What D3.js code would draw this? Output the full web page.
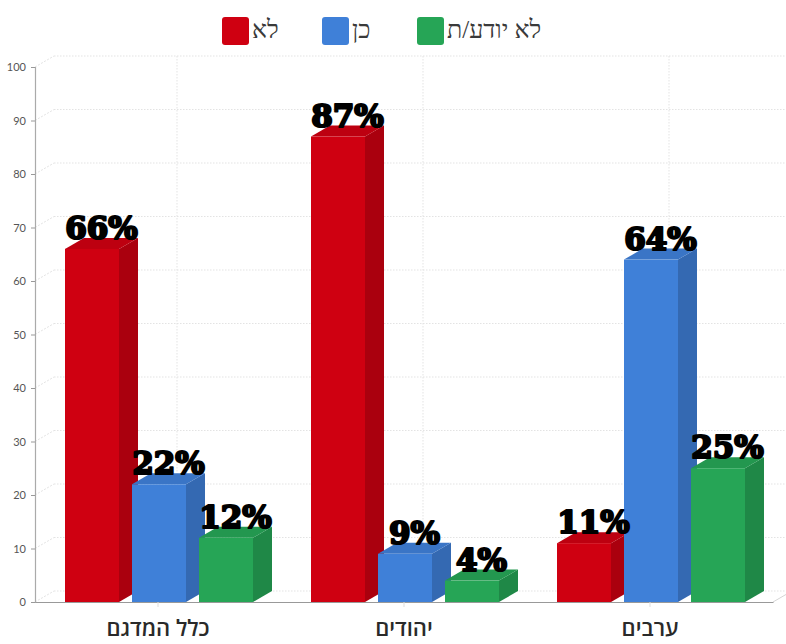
<!DOCTYPE html>
<html lang="he">
<head>
<meta charset="utf-8">
<script src="https://cdn.jsdelivr.net/npm/d3@7"></script>
<style>
  html, body { margin: 0; padding: 0; background: #fff; }
  svg { display: block; }
  .tick-y text { font-family: Lato, sans-serif; font-size: 11px; fill: #555; }
  .cat-label { font-family: "Noto Sans", "Open Sans", sans-serif; font-size: 22px; fill: #2a2a2a; font-weight: 600; }
  .legend-label { font-family: "Liberation Serif", serif; font-size: 25px; fill: #3a3a3a; }
  .value-label { font-family: "DejaVu Serif", serif; font-weight: 700; font-size: 31px; fill: #000; stroke: #000; stroke-width: 2.2px; stroke-linejoin: round; }
</style>
</head>
<body>
<div id="container"></div>
<script>
/* DATA */
const categories = ["כלל המדגם", "יהודים", "ערבים"];
const seriesNames = ["לא", "כן", "לא יודע/ת"];
const noValues = [66, 87, 11];
const yesValues = [22, 9, 64];
const dontKnowValues = [12, 4, 25];
const yTicks = [0, 10, 20, 30, 40, 50, 60, 70, 80, 90, 100];

/* CONSTANTS */
const width = 786,
  height = 644,
  margin = { top: 67, bottom: 42, left: 35, right: 13 };
const depthX = 19, depthY = 11;
const seriesColors = ["#cf0011", "#3f80d8", "#26a556"];

const seriesValues = [noValues, yesValues, dontKnowValues];

const svg = d3.select("#container")
  .append("svg")
  .attr("width", width)
  .attr("height", height);

/* SCALES */
const xScale = d3.scaleBand()
  .domain(categories)
  .range([margin.left, width - margin.right]);

// bars inside one category
const innerScale = d3.scaleBand()
  .domain(seriesNames)
  .range([30, 218])
  .paddingInner(13 / 67);

const yScale = d3.scaleLinear()
  .domain([0, 100])
  .range([height - margin.bottom, margin.top]);

const colorScale = d3.scaleOrdinal().domain(seriesNames).range(seriesColors);

/* BACK WALL GRID */
const grid = svg.append("g")
  .attr("fill", "none")
  .attr("stroke", "#e3e3e3")
  .attr("stroke-width", 1);

grid.selectAll("line.h")
  .data(yTicks)
  .join("line")
  .attr("class", "h")
  .attr("x1", margin.left + depthX)
  .attr("x2", width)
  .attr("y1", d => yScale(d) - depthY)
  .attr("y2", d => yScale(d) - depthY)
  .attr("stroke-dasharray", "1.5 1.5");

grid.selectAll("line.side")
  .data(yTicks)
  .join("line")
  .attr("class", "side")
  .attr("x1", margin.left)
  .attr("x2", margin.left + depthX)
  .attr("y1", d => yScale(d))
  .attr("y2", d => yScale(d) - depthY)
  .attr("stroke-dasharray", "2 1.5");

grid.selectAll("line.v")
  .data(categories)
  .join("line")
  .attr("class", "v")
  .attr("x1", d => xScale(d) + xScale.bandwidth() / 2 + depthX)
  .attr("x2", d => xScale(d) + xScale.bandwidth() / 2 + depthX)
  .attr("y1", yScale(100) - depthY)
  .attr("y2", yScale(0) - depthY)
  .attr("stroke-dasharray", "1.5 1.5");

// floor edge on the right
grid.append("line")
  .attr("x1", width - margin.right)
  .attr("x2", width)
  .attr("y1", yScale(0))
  .attr("y2", yScale(0) - depthY * 13 / depthX)
  .attr("stroke", "#d5d5d5");

/* AXES */
const yAxis = d3.axisLeft(yScale)
  .tickValues(yTicks)
  .tickSize(4)
  .tickPadding(5);

svg.append("g")
  .attr("class", "tick-y")
  .attr("transform", `translate(${margin.left},0)`)
  .call(yAxis)
  .call(g => g.selectAll(".domain").attr("stroke", "#aaa").attr("stroke-width", 1.2))
  .call(g => g.selectAll(".tick line").attr("stroke", "#999"));

const xAxis = d3.axisBottom(xScale)
  .tickSize(5)
  .tickPadding(13)
  .tickSizeOuter(0);

svg.append("g")
  .attr("transform", `translate(0,${yScale(0)})`)
  .call(xAxis)
  .call(g => g.selectAll(".domain").attr("stroke", "#999").attr("stroke-width", 1.2))
  .call(g => g.selectAll(".tick line").attr("stroke", "#ddd"))
  .call(g => g.selectAll(".tick text").attr("class", "cat-label").attr("font-size", null).attr("font-family", null).attr("fill", null));

/* BARS */
const rows = seriesNames.flatMap((name, s) =>
  categories.map((cat, c) => ({ name, cat, value: seriesValues[s][c] })));

const barX = d => xScale(d.cat) + innerScale(d.name);
const barW = innerScale.bandwidth();
const base = yScale(0);

const bars = svg.append("g")
  .selectAll("g.bar")
  .data(rows)
  .join("g")
  .attr("class", "bar");

// side face
bars.append("path")
  .attr("fill", d => d3.color(colorScale(d.name)).darker(0.55))
  .attr("d", d => {
    const x = barX(d) + barW, y = yScale(d.value);
    return `M${x},${y}L${x + depthX},${y - depthY}L${x + depthX},${base - depthY}L${x},${base}Z`;
  });

// top face
bars.append("path")
  .attr("fill", d => d3.color(colorScale(d.name)).darker(0.25))
  .attr("d", d => {
    const x = barX(d), y = yScale(d.value);
    return `M${x},${y}L${x + depthX},${y - depthY}L${x + barW + depthX},${y - depthY}L${x + barW},${y}Z`;
  });

// front face
bars.append("rect")
  .attr("x", barX)
  .attr("y", d => yScale(d.value))
  .attr("width", barW)
  .attr("height", d => base - yScale(d.value))
  .attr("fill", d => colorScale(d.name));

/* VALUE LABELS */
svg.append("g")
  .selectAll("text")
  .data(rows)
  .join("text")
  .attr("class", "value-label")
  .attr("text-anchor", "middle")
  .attr("x", d => barX(d) + (barW + depthX) / 2)
  .attr("y", d => yScale(d.value) - depthY + 1)
  .text(d => `${d.value}%`);

/* LEGEND */
const legendX = d3.scaleOrdinal().domain(seriesNames).range([222, 322, 417]);

const legend = svg.append("g")
  .selectAll("g")
  .data(seriesNames)
  .join("g")
  .attr("transform", d => `translate(${legendX(d)},17)`);

legend.append("rect")
  .attr("width", 27)
  .attr("height", 28)
  .attr("rx", 3)
  .attr("fill", d => colorScale(d));

legend.append("text")
  .attr("class", "legend-label")
  .attr("x", 30)
  .attr("y", 21)
  .attr("text-anchor", "start")
  .text(d => d);
</script>
</body>
</html>
